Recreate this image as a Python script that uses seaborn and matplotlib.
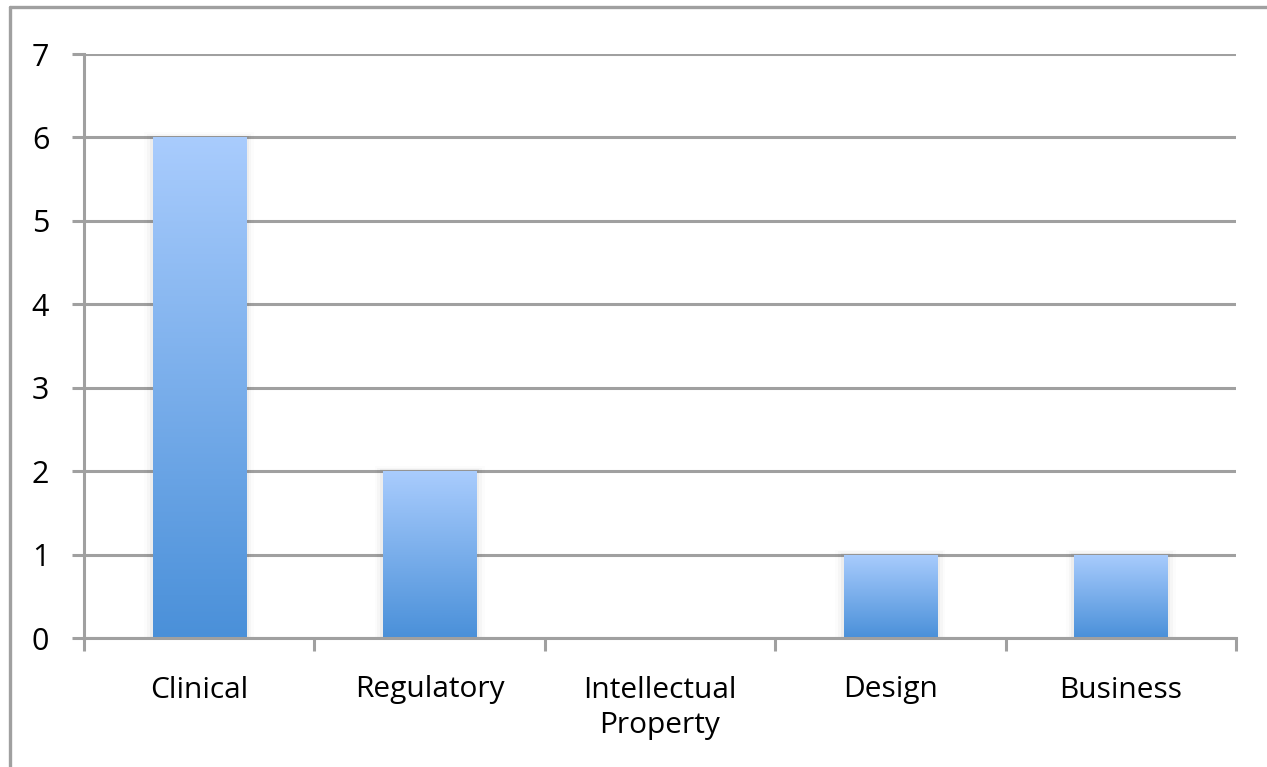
import numpy as np
import pandas as pd
import matplotlib
matplotlib.use("Agg")
import matplotlib.pyplot as plt
from matplotlib.lines import Line2D
from matplotlib.colors import LinearSegmentedColormap
import seaborn as sns

categories = ["Clinical", "Regulatory", "Intellectual\nProperty", "Design", "Business"]
counts = [6, 2, 0, 1, 1]
y_ticks = [0, 1, 2, 3, 4, 5, 6, 7]

sns.set_theme(style="white")
plt.rcParams["font.family"] = ["Open Sans", "DejaVu Sans"]

grid_color = "#a0a0a0"
df = pd.DataFrame({"category": categories, "count": counts})

fig = plt.figure(figsize=(12.67, 7.67), dpi=100)
ax = fig.add_axes([84 / 1267, 1 - 638 / 767, (1236 - 84) / 1267, (638 - 54) / 767])

sns.barplot(data=df, x="category", y="count", ax=ax, width=0.405,
            color="#6ea6e8", saturation=1, zorder=3)

ax.set_xlim(-0.5, len(categories) - 0.5)
ax.set_ylim(0, 7)
ax.set_yticks(y_ticks)
ax.set_xlabel("")
ax.set_ylabel("")

# vertical gradient fill on each bar, light at the top, deeper blue at the base
grad = LinearSegmentedColormap.from_list("bar_grad", ["#4a90d9", "#a9ccfd"])
gradient = np.linspace(0, 1, 256).reshape(-1, 1)
for patch in ax.patches:
    h = patch.get_height()
    if h <= 0:
        continue
    x0 = patch.get_x()
    w = patch.get_width()
    # soft shadow to the sides of the bar
    for k, a in enumerate([0.035, 0.022, 0.012]):
        pad = 0.012 * (k + 1)
        sh = plt.Rectangle((x0 - pad, 0), w + 2 * pad, h + 0.02 * (k + 1),
                           facecolor="black", edgecolor="none", alpha=a, zorder=2)
        ax.add_patch(sh)
    im = ax.imshow(gradient, cmap=grad, aspect="auto", origin="lower",
                   extent=[x0, x0 + w, 0, h], zorder=3.5, interpolation="bicubic")
    im.set_clip_path(patch)
    patch.set_facecolor("none")
    patch.set_edgecolor("none")

ax.set_xlim(-0.5, len(categories) - 0.5)
ax.set_ylim(0, 7)

# horizontal gridlines
ax.yaxis.grid(True, color=grid_color, linewidth=2.2, zorder=1)
ax.xaxis.grid(False)
ax.set_axisbelow(True)

for side in ["top", "right"]:
    ax.spines[side].set_visible(False)
for side in ["left", "bottom"]:
    ax.spines[side].set_color(grid_color)
    ax.spines[side].set_linewidth(2.2)
    ax.spines[side].set_zorder(4)

ax.tick_params(axis="y", which="major", length=9, width=2.2, color=grid_color,
               left=True, labelsize=22, pad=16, labelcolor="black")
ax.set_xticks(range(len(categories)))
ax.set_xticklabels(categories, fontsize=21.5, color="black", linespacing=1.3)
ax.tick_params(axis="x", which="major", length=0, pad=27)
ax.set_xticks(np.arange(-0.5, len(categories), 1.0), minor=True)
ax.tick_params(axis="x", which="minor", length=9, width=2.2, color=grid_color, bottom=True)

# frame lines along the top and left of the figure
fig.add_artist(Line2D([9.5 / 1267, 1.0], [1 - 7 / 767, 1 - 7 / 767],
                      transform=fig.transFigure, color=grid_color, linewidth=2.4))
fig.add_artist(Line2D([9.5 / 1267, 9.5 / 1267], [0, 1 - 7 / 767],
                      transform=fig.transFigure, color=grid_color, linewidth=2.4))

fig.savefig("out.png", dpi=100, facecolor="white")
